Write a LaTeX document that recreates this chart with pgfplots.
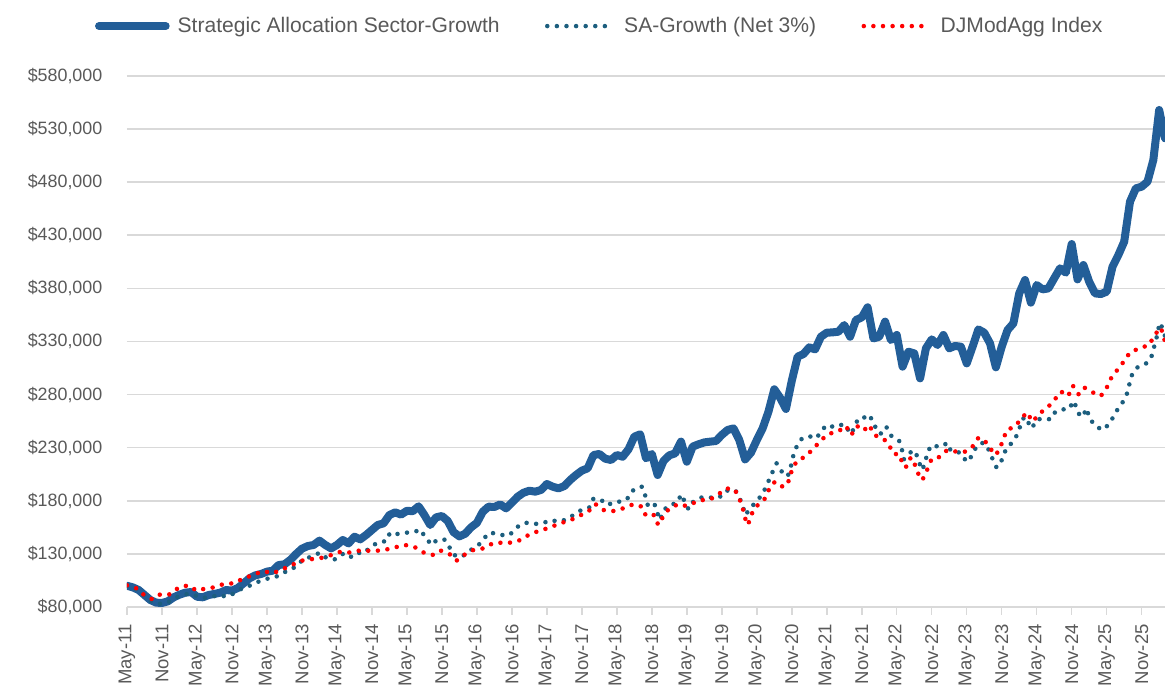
\documentclass[border=0pt]{standalone}
\usepackage{pgfplots}
\pgfplotsset{compat=1.18}
\usepackage{fontspec}
\setmainfont{Liberation Sans}
\definecolor{cblue}{RGB}{35,94,152}
\definecolor{cteal}{RGB}{28,94,126}
\definecolor{cred}{RGB}{255,0,0}
\definecolor{cgrid}{RGB}{217,217,217}
\definecolor{ctext}{RGB}{89,89,89}
\begin{document}
\begin{tikzpicture}
\begin{axis}[
  scale only axis, width=778.5pt, height=398.25pt,
  xmin=0, xmax=178, ymin=80, ymax=580,
  axis line style={draw=none},
  tick pos=left, tick align=outside,
  major tick length=6pt,
  xtick={0,6,...,174},
  xticklabels={May-11,Nov-11,May-12,Nov-12,May-13,Nov-13,May-14,Nov-14,May-15,Nov-15,May-16,Nov-16,May-17,Nov-17,May-18,Nov-18,May-19,Nov-19,May-20,Nov-20,May-21,Nov-21,May-22,Nov-22,May-23,Nov-23,May-24,Nov-24,May-25,Nov-25},
  ytick={80,130,...,580},
  yticklabels={{\$80,000},{\$130,000},{\$180,000},{\$230,000},{\$280,000},{\$330,000},{\$380,000},{\$430,000},{\$480,000},{\$530,000},{\$580,000}},
  xtick style={draw=cgrid, line width=1.1pt},
  ytick style={draw=none},
  ymajorgrids,
  grid style={draw=cgrid, line width=1.2pt},
  ticklabel style={color=ctext},
  xticklabel style={rotate=90, anchor=east, xshift=-3.5pt, font=\fontsize{13.9}{16}\selectfont},
  yticklabel style={anchor=east, xshift=-9pt, font=\fontsize{13.4}{16}\selectfont},
  legend columns=3,
  legend cell align=left,
  legend style={draw=none, fill=none, at={(axis description cs:0.4557,1.094)}, anchor=center,
    font=\fontsize{15.8}{18}\selectfont, text=ctext,
    /tikz/every even column/.append style={column sep=32pt}},
  legend image code/.code={\draw[#1] (0pt,0pt) -- (50pt,0pt); \path (54pt,0pt);},
]
\addplot[cblue, line width=6pt, line join=round, line cap=round] coordinates {
(0,100.0)(1,98.5)(2,96.0)(3,91.3)(4,86.6)(5,84.1)(6,83.8)(7,85.3)(8,89.1)(9,91.6)(10,93.5)(11,94.1)(12,89.7)(13,89.1)(14,91.3)(15,92.3)(16,93.5)(17,96.0)(18,95.4)(19,97.9)(20,102.3)(21,107.0)(22,109.8)(23,111.1)(24,113.3)(25,114.2)(26,119.5)(27,120.2)(28,124.3)(29,129.9)(30,134.9)(31,137.4)(32,138.4)(33,142.5)(34,138.4)(35,135.2)(36,138.4)(37,143.1)(38,139.9)(39,146.2)(40,143.7)(41,147.8)(42,152.5)(43,157.2)(44,158.8)(45,166.6)(46,169.1)(47,167.0)(48,170.6)(49,170.2)(50,174.8)(51,166.6)(52,157.2)(53,164.4)(54,165.7)(55,161.0)(56,150.5)(57,146.5)(58,149.0)(59,155.0)(60,159.2)(61,169.6)(62,174.5)(63,174.2)(64,176.6)(65,172.9)(66,178.2)(67,183.9)(68,187.6)(69,189.5)(70,188.6)(71,190.2)(72,195.8)(73,193.3)(74,191.7)(75,193.9)(76,199.6)(77,204.3)(78,208.4)(79,210.6)(80,223.1)(81,224.1)(82,219.7)(83,218.4)(84,223.1)(85,221.5)(86,228.5)(87,240.4)(88,242.6)(89,220.0)(90,224.1)(91,204.3)(92,217.5)(93,222.8)(94,224.7)(95,235.7)(96,216.8)(97,231.0)(98,233.2)(99,235.0)(100,235.7)(101,236.3)(102,242.0)(103,246.7)(104,248.2)(105,237.2)(106,219.0)(107,225.3)(108,237.2)(109,248.2)(110,263.9)(111,285.0)(112,277.0)(113,266.5)(114,293.0)(115,315.7)(116,318.2)(117,324.5)(118,322.6)(119,334.5)(120,338.3)(121,338.6)(122,339.2)(123,345.5)(124,334.5)(125,350.2)(126,352.7)(127,362.2)(128,332.9)(129,334.5)(130,348.7)(131,331.4)(132,336.1)(133,306.3)(134,320.4)(135,318.8)(136,295.3)(137,323.6)(138,332.0)(139,326.7)(140,336.1)(141,323.6)(142,325.8)(143,325.1)(144,309.4)(145,325.1)(146,341.4)(147,338.3)(148,328.2)(149,305.7)(150,325.1)(151,340.8)(152,347.1)(153,375.3)(154,387.9)(155,366.6)(156,383.2)(157,379.1)(158,380.0)(159,389.5)(160,398.9)(161,394.8)(162,421.8)(163,388.5)(164,402.0)(165,386.3)(166,375.3)(167,374.7)(168,376.9)(169,400.4)(170,411.4)(171,424.0)(172,461.7)(173,474.2)(174,475.8)(175,480.5)(176,500.9)(177,548.0)(178,521.3)
};
\addlegendentry{Strategic Allocation Sector-Growth}
\addplot[cteal, line width=3.4pt, line cap=round, dash pattern=on 0pt off 7.2pt] coordinates {
(0,100.0)(1,98.2)(2,95.5)(3,90.6)(4,85.8)(5,83.3)(6,82.9)(7,84.2)(8,87.9)(9,90.3)(10,92.0)(11,92.5)(12.6,88.8)(14,88.8)(15.7,91.3)(17.1,89.7)(18.6,93.5)(20,98.5)(21.4,100.7)(22.9,104.8)(24.3,107.0)(25.4,107.9)(26.7,112.3)(28.1,114.8)(29.4,120.5)(30.4,125.8)(31.9,127.4)(33,131.2)(34.3,125.8)(35.7,124.9)(37,129.9)(38.2,126.4)(39.3,131.2)(40.6,130.5)(41.8,136.8)(43.1,140.9)(44.5,142.1)(45.1,150.0)(46.5,148.7)(47.9,150.0)(49.1,150.5)(50.4,152.8)(51.1,145.6)(52.3,138.4)(53.1,143.1)(54.5,143.4)(55.3,136.2)(56.1,128.9)(57.4,127.1)(58.7,133.0)(60.1,137.1)(61,143.1)(62.1,150.0)(63.6,149.0)(65,146.8)(65.9,149.4)(67,155.6)(68.3,159.4)(69.9,158.2)(71.3,158.8)(72.6,161.9)(74,160.4)(75.5,162.5)(76.8,167.6)(78.2,172.3)(79.3,173.8)(79.9,181.7)(81.1,181.7)(82.4,176.0)(83.7,179.2)(85,179.2)(86.2,183.9)(86.9,190.8)(88.3,193.3)(88.9,184.5)(89.3,176.0)(90.4,178.2)(90.8,170.7)(91.4,161.9)(92,170.7)(92.9,176.0)(94.2,177.6)(95.1,186.1)(95.7,178.2)(96.3,172.0)(97.1,179.2)(98.6,183.3)(100,183.0)(101.6,183.3)(102.7,189.5)(104.3,190.2)(105,183.3)(105.6,175.1)(106,166.6)(106.7,171.3)(107.7,178.2)(108.9,185.5)(109.6,193.3)(110.2,201.0)(110.9,209.6)(111.4,215.3)(112.3,207.4)(113.3,203.0)(114,215.3)(114.3,223.7)(114.9,231.9)(115.6,237.9)(116.9,241.0)(118.2,238.8)(119.2,246.7)(120,251.4)(121.4,249.2)(122.9,252.3)(124.2,242.9)(125.4,257.6)(126.6,258.6)(127.4,260.8)(127.9,252.9)(129.2,242.9)(130.2,249.8)(130.9,242.0)(131.6,238.8)(132.4,236.6)(132.9,227.8)(133.2,219.0)(133.7,222.2)(134.8,227.8)(135.4,223.1)(136.3,209.0)(136.9,215.3)(137.2,225.3)(138,232.5)(139.1,231.0)(140,231.6)(140.6,234.7)(141.3,226.9)(142.9,225.3)(143.7,219.0)(144.4,216.9)(145,225.3)(146,233.2)(146.9,234.7)(147.8,227.8)(148.5,218.4)(149.1,211.5)(149.7,213.7)(150.3,223.1)(150.9,230.3)(152,235.7)(152.7,242.9)(153.5,255.4)(153.9,259.2)(155.2,248.2)(155.9,256.1)(157,257.6)(158.4,256.7)(159.2,263.9)(160.6,266.1)(161.7,267.1)(162.2,274.0)(162.8,268.6)(163.4,259.8)(164,259.8)(164.5,267.1)(165.1,257.6)(165.9,251.4)(167.2,246.7)(168.3,251.4)(169.1,258.6)(169.9,266.4)(170.8,273.3)(171.5,281.2)(171.9,290.0)(172.3,298.1)(173.2,305.4)(174.6,308.5)(175.6,314.1)(176,322.6)(176.5,331.4)(176.7,339.2)(177.2,347.7)(178,335.0)
};
\addlegendentry{SA-Growth (Net 3\%)}
\addplot[cred, line width=3.4pt, line cap=round, dash pattern=on 0pt off 7.2pt] coordinates {
(0,100.4)(1.8,97.3)(3.1,90.3)(4.4,87.2)(5.7,91.9)(7.4,91.9)(8.9,98.5)(10.6,100.4)(11.9,95.4)(13.1,96.9)(14.9,98.5)(16.6,101.7)(18.3,102.3)(19.9,106.7)(21.6,110.1)(23.3,113.9)(25,111.7)(26.6,115.5)(28,118.6)(29.6,123.3)(31.3,124.9)(33,125.8)(34.7,128.3)(36.5,131.8)(38,131.2)(39.4,133.0)(41.1,133.0)(42.9,133.0)(44.6,134.3)(46,136.2)(47.7,138.4)(49.4,136.2)(50.9,131.2)(52.4,129.0)(53.7,133.3)(55.3,129.9)(56.5,123.6)(57.9,129.3)(59.4,133.7)(61.1,135.2)(62.7,139.9)(64.3,140.6)(66,140.6)(67.5,143.1)(69.1,148.7)(70.8,151.9)(72.6,155.0)(74.2,158.8)(75.9,161.3)(77.5,165.7)(79.1,169.8)(80.3,177.0)(81.7,171.3)(83.4,170.4)(85.1,172.9)(86.8,176.7)(88.3,174.5)(89,165.7)(90.4,166.6)(91.1,157.2)(92,165.7)(93,172.9)(94.6,177.0)(95.9,175.1)(97,177.6)(98.3,180.7)(99.8,180.7)(101.3,185.5)(102.7,191.7)(104.2,190.8)(105,182.3)(105.6,172.9)(106,163.5)(106.5,157.2)(107,166.6)(108,175.1)(109.3,181.4)(110.1,190.8)(111.1,198.0)(112.6,192.7)(113.6,199.6)(114,209.0)(114.9,217.8)(116.3,221.5)(117.6,228.5)(118.9,236.3)(120.2,242.9)(121.9,245.1)(123.3,250.4)(124.2,242.0)(125.2,250.4)(126.3,246.0)(127.3,251.4)(128.1,242.0)(129.6,238.8)(130.6,234.1)(131.3,224.7)(132.6,223.1)(133,212.8)(133.7,212.1)(134.4,220.9)(135.3,212.1)(135.9,202.1)(136.4,199.6)(137.2,209.0)(137.9,218.4)(138.9,219.0)(139.7,224.1)(140.7,227.8)(142.2,226.3)(143.7,226.3)(144.9,230.3)(145.9,238.8)(146.8,238.8)(147.8,231.0)(148.9,223.1)(149.6,227.8)(150.2,237.2)(150.9,246.7)(152.2,249.8)(153.3,256.7)(154.3,263.3)(155.3,254.5)(156.5,262.3)(157.9,268.0)(159.1,275.5)(160.2,282.8)(161.4,278.7)(162.2,288.4)(163.2,280.2)(164.2,286.5)(165.6,282.1)(167,278.7)(168,286.5)(168.8,295.9)(169.9,303.8)(171,311.6)(172,319.8)(173.6,323.6)(175.3,326.7)(176.2,336.1)(177.3,343.0)(178,330.0)
};
\addlegendentry{DJModAgg Index}
\coordinate (sw) at (rel axis cs:0,0);
\end{axis}
\pgfresetboundingbox
\path ([shift={(-95.25pt,-61.5pt)}]sw) rectangle ([shift={(778.5pt,455.25pt)}]sw);
\end{tikzpicture}
\end{document}
